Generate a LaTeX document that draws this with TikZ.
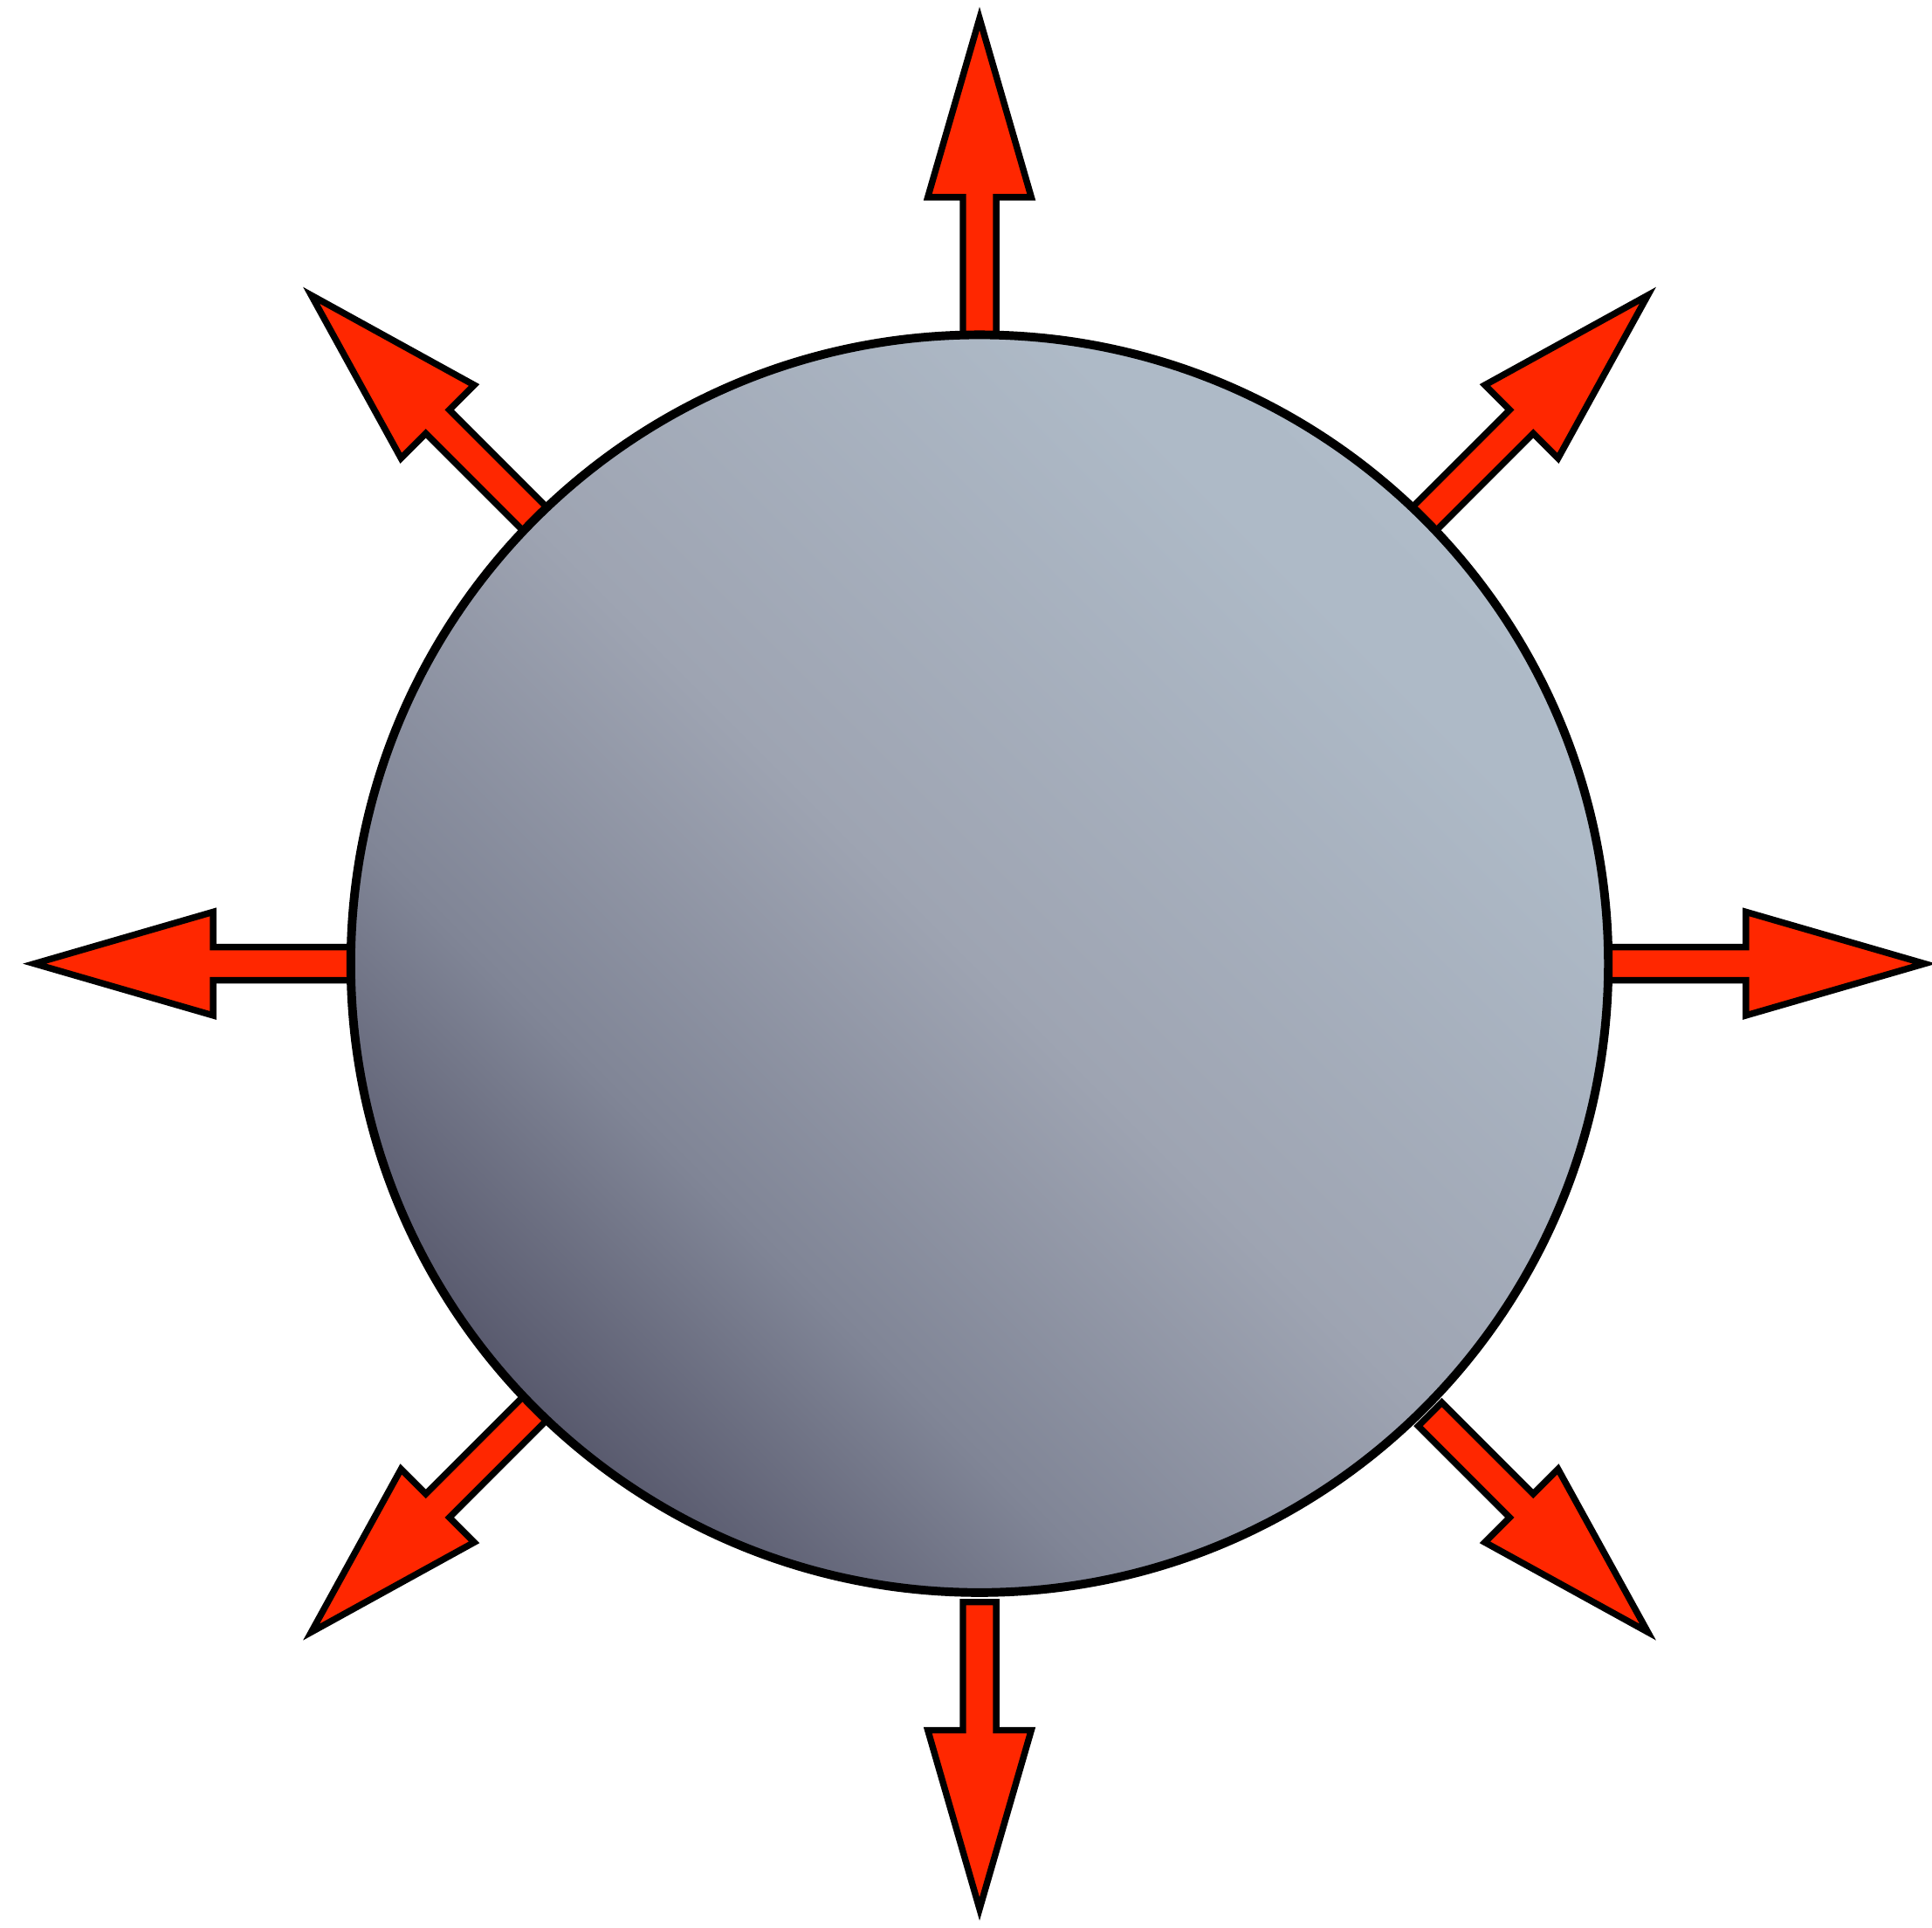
\documentclass[tikz,border=0pt]{standalone}
\usepackage{tikz}
\usetikzlibrary{calc}
\usepackage{xcolor}
\definecolor{rayred}{HTML}{FF2700}
\definecolor{discA}{HTML}{4C4C60}
\definecolor{discB}{HTML}{55566A}
\definecolor{discC}{HTML}{808596}
\definecolor{discD}{HTML}{9EA4B2}
\definecolor{discE}{HTML}{AEBAC7}
\definecolor{discF}{HTML}{B2BECB}
\pgfdeclareverticalshading{discshade}{100bp}{color(0bp)=(discA); color(24bp)=(discB);
  color(36bp)=(discC); color(50bp)=(discD); color(70bp)=(discE); color(100bp)=(discF)}

\begin{document}
\begin{tikzpicture}[
  x=0.01cm, y=0.01cm,
  ray/.style={draw=black, line width=1.5pt, fill=rayred},
  disc/.style={circle, draw=black, line width=2pt, inner sep=0pt, minimum size=10.2cm,
    shading=discshade, shading angle=-45}
]
  \useasboundingbox (0,0) rectangle (1568,1564);
  \coordinate (c) at (795,782);
  % eight rays, start radius per direction
  \foreach \a/\r in {0/505, 45/505, 90/505, 135/505, 180/505, 225/505, 270/518, 315/517} {
    \draw[ray, shift={(c)}, rotate=\a]
      (\r,-13.5) -- (622,-13.5) -- (622,-42) -- (767,0) -- (622,42) -- (622,13.5) -- (\r,13.5) -- cycle;
  }
  \node[disc] (sun) at (c) {};
\end{tikzpicture}
\end{document}
